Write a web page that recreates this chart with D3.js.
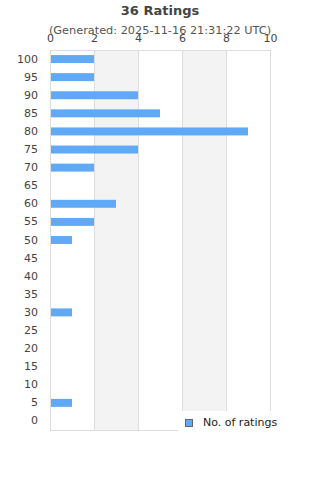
<!DOCTYPE html>
<html>
<head>
<meta charset="utf-8">
<script src="https://cdn.jsdelivr.net/npm/d3@7"></script>
<style>
    body { margin: 0; background: #fff; }
    text { font-family: "DejaVu Sans", sans-serif; }
</style>
</head>
<body>
<div id="chart"></div>
<script>
// rating buckets and counts
let categories = ["100", "95", "90", "85", "80", "75", "70", "65", "60", "55", "50",
    "45", "40", "35", "30", "25", "20", "15", "10", "5", "0"];
let counts = [2, 2, 4, 5, 9, 4, 2, 0, 3, 2, 1, 0, 0, 0, 1, 0, 0, 0, 0, 1, 0];
let xTicks = [0, 2, 4, 6, 8, 10];
let title = "36 Ratings";
let subtitle = "(Generated: 2025-11-16 21:31:22 UTC)";
let seriesName = "No. of ratings";

let margin = {top: 50, right: 50, bottom: 50, left: 50};
let width = 320 - margin.left - margin.right;
let height = 480 - margin.top - margin.bottom;

let svg = d3.select("#chart").append("svg")
    .attr("width", 320)
    .attr("height", 480);

let g = svg.append("g")
    .attr("transform", "translate(" + margin.left + "," + margin.top + ")");

let x = d3.scaleLinear().domain([0, 10]).range([0, width]);
let y = d3.scaleBand().domain(categories).range([0, height]).paddingInner(0.56).paddingOuter(0.28);

// alternating bands
g.selectAll(".band")
    .data(d3.range(0, xTicks.length - 1).filter(i => i % 2 == 1))
    .enter().append("rect")
    .attr("x", i => x(xTicks[i]))
    .attr("width", i => x(xTicks[i + 1]) - x(xTicks[i]))
    .attr("y", 0)
    .attr("height", height)
    .attr("fill", "#f3f3f3");

// grid lines
g.selectAll(".grid")
    .data(xTicks)
    .enter().append("line")
    .attr("x1", d => x(d) + 0.5).attr("x2", d => x(d) + 0.5)
    .attr("y1", 0).attr("y2", height)
    .attr("stroke", "#dddddd");

g.append("line").attr("x1", 0).attr("x2", width + 0.5).attr("y1", 0.5).attr("y2", 0.5).attr("stroke", "#dddddd");
g.append("line").attr("x1", 0).attr("x2", width + 0.5).attr("y1", height + 0.5).attr("y2", height + 0.5).attr("stroke", "#dddddd");

// bars
g.selectAll(".bar")
    .data(counts)
    .enter().append("rect")
    .attr("x", x(0) + 1)
    .attr("y", (d, i) => y(categories[i]))
    .attr("width", d => d > 0 ? x(d) - x(0) - 1 : 0)
    .attr("height", y.bandwidth())
    .attr("fill", "#60a9f6");

// x axis on top
let xAxis = d3.axisTop(x).tickValues(xTicks).tickSize(0).tickPadding(8);
let xg = g.append("g").call(xAxis);
xg.select(".domain").remove();
xg.selectAll("text").attr("font-size", "11px").attr("fill", "#444");

// y axis
let yAxis = d3.axisLeft(y).tickSize(0).tickPadding(12);
let yg = g.append("g").call(yAxis);
yg.select(".domain").remove();
yg.selectAll("text").attr("font-size", "11px").attr("fill", "#444");

// titles
svg.append("text")
    .attr("x", 160).attr("y", 15)
    .attr("text-anchor", "middle")
    .attr("font-size", "13px")
    .attr("font-weight", "bold")
    .attr("fill", "#444")
    .text(title);

svg.append("text")
    .attr("x", 160).attr("y", 34)
    .attr("text-anchor", "middle")
    .attr("font-size", "11.3px")
    .attr("fill", "#555")
    .text(subtitle);

// legend
let legend = svg.append("g");
legend.append("rect")
    .attr("x", 178).attr("y", 411)
    .attr("width", 112).attr("height", 30)
    .attr("fill", "#fff");
legend.append("rect")
    .attr("x", 185.5).attr("y", 419.5)
    .attr("width", 7).attr("height", 7)
    .attr("fill", "#60a9f6")
    .attr("stroke", "#666");
legend.append("text")
    .attr("x", 203).attr("y", 426)
    .attr("font-size", "11px")
    .attr("fill", "#222")
    .text(seriesName);
</script>
</body>
</html>
